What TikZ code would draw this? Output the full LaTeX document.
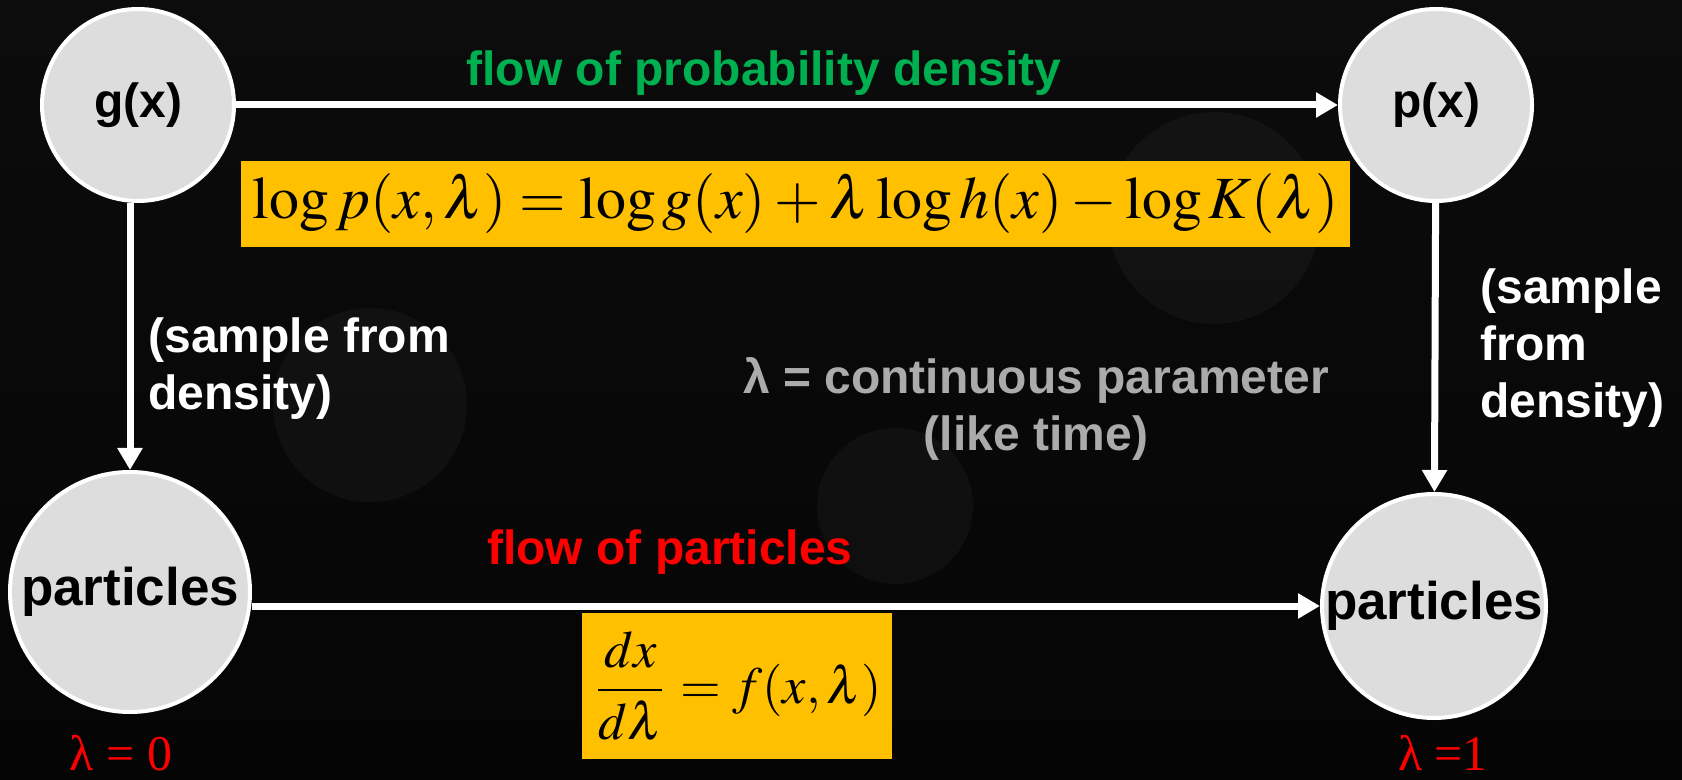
\documentclass[tikz,border=0pt]{standalone}
\usepackage{amsmath}
\usepackage{mathptmx}
\usepackage[no-math]{fontspec}
\setmainfont{Liberation Sans}
\newfontfamily\greekserif{Liberation Serif}
\usetikzlibrary{arrows.meta, positioning}

\definecolor{bgdark}{HTML}{0C0C0C}
\definecolor{bgdarker}{HTML}{050505}
\definecolor{nodegray}{HTML}{DDDDDD}
\definecolor{eqorange}{HTML}{FFC000}
\definecolor{flowgreen}{HTML}{00B050}
\definecolor{paramgray}{HTML}{ABABAB}

\begin{document}
\begin{tikzpicture}[x=0.5pt, y=-0.5pt,
    state/.style={circle, draw=white, line width=2pt, fill=nodegray, inner sep=0pt,
        font=\bfseries\fontsize{24}{28}\selectfont},
    bigstate/.style={state, font=\bfseries\fontsize{26.5}{30}\selectfont},
    arrow/.style={-{Triangle[length=11pt, width=12pt]}, draw=white, line width=3.5pt},
    note/.style={inner sep=0pt, align=left, font=\bfseries\fontsize{24}{28.5}\selectfont},
    eqbox/.style={fill=eqorange, inner sep=0pt},
    lamlabel/.style={inner sep=0pt, text=red, font=\greekserif\fontsize{25}{27}\selectfont}
]

\shade[top color=bgdark, bottom color=bgdarker] (0,0) rectangle (1682,780);
\useasboundingbox (0,0) rectangle (1682,780);
\fill[white, opacity=0.035] (1214,218) circle[radius=106];
\fill[white, opacity=0.035] (370,405) circle[radius=97];
\fill[white, opacity=0.035] (895,506) circle[radius=78];

\node[state, minimum size=96pt] (gx) at (138,105) {g(x)};
\node[state, minimum size=96pt] (px) at (1436,105) {p(x)};
\node[bigstate, minimum size=120pt] (pts0) at (130,592) {\makebox[0pt]{particles}};
\node[bigstate, minimum size=112pt] (pts1) at (1434,606) {\makebox[0pt]{particles}};

\node[note, text=flowgreen] (flowdens) at (764,73) {flow of probability density};
\node[eqbox, minimum width=554.5pt, minimum height=43pt] (logeq) at (795.5,204)
{\resizebox{543pt}{!}{$\log p(x,\lambda) = \log g(x) + \lambda\log h(x) - \log K(\lambda)$}};

\node[note, text=white, anchor=west] (sampleL) at (148,369) {(sample from\\density)};
\node[note, text=white, anchor=west] (sampleR) at (1480,348) {(sample\\from\\density)};
\node[note, text=paramgray, align=center] (param) at (1036,409) {λ = continuous parameter\\(like time)};

\node[note, text=red] (flowpart) at (670,552) {flow of particles};
\node[eqbox, minimum width=155pt, minimum height=73pt] (odeeq) at (737,686)
{\resizebox{145pt}{!}{$\displaystyle\frac{dx}{d\lambda} = f(x,\lambda)$}};

\node[lamlabel, below=10.5pt of pts0, xshift=-4.5pt] (lam0) {λ = 0};
\node[lamlabel, below=7.5pt of pts1, xshift=4.5pt] (lam1) {λ =1};

\draw[arrow] (gx) -- (px);
\draw[arrow] (gx.south -| pts0.north) -- (pts0.north);
\draw[arrow] (px) -- (pts1);
\draw[arrow] (pts0.east |- pts1.west) -- (pts1.west);

\end{tikzpicture}
\end{document}
